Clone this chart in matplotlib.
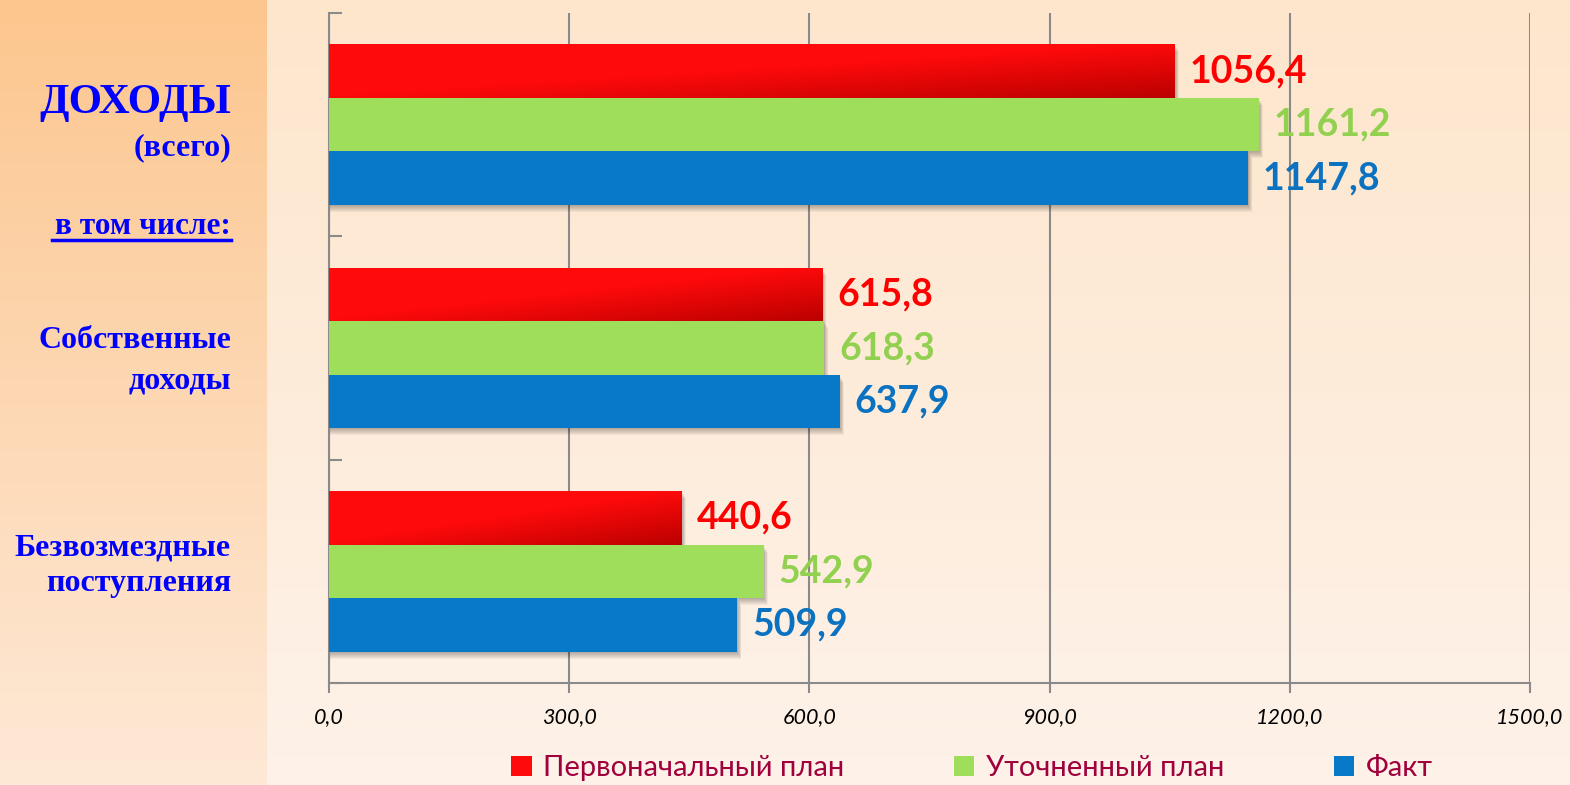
import numpy as np
import matplotlib.pyplot as plt
from matplotlib.lines import Line2D

categories = ['ДОХОДЫ (всего)', 'Собственные доходы', 'Безвозмездные поступления']
series_names = ['Первоначальный план', 'Уточненный план', 'Факт']
plan_initial = [1056.4, 615.8, 440.6]
plan_revised = [1161.2, 618.3, 542.9]
fact = [1147.8, 637.9, 509.9]
xticks = [0, 300, 600, 900, 1200, 1500]

colors = ['#ff0a0a', '#9ede5a', '#0878c8']
label_colors = ['#ff0000', '#92d050', '#0a72c0']

fig = plt.figure(figsize=(15.7, 7.85), dpi=100)

# background: peach gradient on the right, darker orange panel on the left
bg = fig.add_axes([0, 0, 1, 1], zorder=-10)
bg.axis('off')
t = np.linspace(0, 1, 256)[:, None]
top_r, bot_r = np.array([254, 230, 204]) / 255, np.array([253, 242, 233]) / 255
top_l, bot_l = np.array([252, 198, 142]) / 255, np.array([254, 233, 215]) / 255
right_img = (top_r * (1 - t) + bot_r * t)[:, None, :] * np.ones((1, 2, 1))
left_img = (top_l * (1 - t) + bot_l * t)[:, None, :] * np.ones((1, 2, 1))
bg.imshow(right_img, extent=[0, 1, 0, 1], aspect='auto', origin='upper')
bg.imshow(left_img, extent=[0, 267 / 1570, 0, 1], aspect='auto', origin='upper')
bg.set_xlim(0, 1)
bg.set_ylim(0, 1)

ax = fig.add_axes([329 / 1570, 1 - 683 / 785, 1201 / 1570, 670 / 785])
ax.set_facecolor('none')

y = np.arange(len(categories))
h = 0.24
offsets = [-h, 0, h]
series = [plan_initial, plan_revised, fact]

# soft shadow behind each group of bars
px_x = 1500 / 1201
px_y = 3 / 670
for k in range(1, 8):
    for vals, off in zip(series, offsets):
        ax.barh(y + off + k * px_y, np.array(vals) + k * px_x * 0.6, height=h,
                color='black', alpha=0.045, linewidth=0, zorder=1)

bars = []
for vals, off, c, name in zip(series, offsets, colors, series_names):
    b = ax.barh(y + off, vals, height=h, color=c, linewidth=0, zorder=3, label=name)
    bars.append(b)

# gradient on the red bars (darker toward bottom-right)
gx = np.linspace(0, 1, 200)[None, :]
gy = np.linspace(0, 1, 60)[:, None]
shade = np.clip(gx * 0.9 + gy * 0.9 - 0.85, 0, 1)
dark = np.array([0.72, 0.0, 0.0])
light = np.array([1.0, 0.04, 0.04])
grad = light * (1 - shade[..., None]) + dark * shade[..., None]
for rect in bars[0]:
    x0, y0 = rect.get_x(), rect.get_y()
    w, hh = rect.get_width(), rect.get_height()
    im = ax.imshow(grad, extent=[x0, x0 + w, y0 + hh, y0], aspect='auto',
                   origin='upper', zorder=4)
    im.set_clip_path(rect)

for vals, off, lc in zip(series, offsets, label_colors):
    for yi, v in zip(y, vals):
        ax.text(v + 15 * px_x, yi + off, f'{v:.1f}'.replace('.', ','),
                color=lc, fontsize=27, fontweight='bold', va='center', ha='left',
                family=['Lato', 'DejaVu Sans'], zorder=5)

ax.set_xlim(0, 1500)
ax.set_ylim(2.5, -0.5)
ax.set_xticks(xticks)
ax.set_xticklabels([f'{v:.1f}'.replace('.', ',') for v in xticks],
                   fontsize=15.5, fontstyle='italic', family=['Lato', 'DejaVu Sans'])
ax.tick_params(axis='x', direction='out', length=7, width=1.5, color='#8a8a8a', pad=10)
ax.set_yticks([-0.5, 0.5, 1.5, 2.5])
ax.set_yticklabels([])
ax.tick_params(axis='y', direction='in', length=9, width=1.5, color='#8a8a8a')
ax.grid(axis='x', color='#8a8a8a', linewidth=1.5, zorder=0)
ax.set_axisbelow(True)
for s in ['top', 'right']:
    ax.spines[s].set_visible(False)
for s in ['left', 'bottom']:
    ax.spines[s].set_color('#8a8a8a')
    ax.spines[s].set_linewidth(1.5)

# left panel headings
blue = '#0000ff'
serif = ['Liberation Serif', 'DejaVu Serif']
xr = 231 / 1570


def fy(py):
    return 1 - py / 785


fig.text(xr, fy(103), 'ДОХОДЫ', ha='right', va='center', color=blue,
         fontsize=31, fontweight='bold', family=serif)
fig.text(xr, fy(148), '(всего)', ha='right', va='center', color=blue,
         fontsize=23, fontweight='bold', family=serif)
fig.text(xr, fy(226), 'в том числе:', ha='right', va='center', color=blue,
         fontsize=22.5, fontweight='bold', family=serif)
fig.add_artist(Line2D([52 / 1570, xr], [fy(240), fy(240)], color=blue, linewidth=2.5))
fig.text(xr, fy(340), 'Собственные', ha='right', va='center', color=blue,
         fontsize=23, fontweight='bold', family=serif)
fig.text(xr, fy(381), 'доходы', ha='right', va='center', color=blue,
         fontsize=23, fontweight='bold', family=serif)
fig.text(xr, fy(548), 'Безвозмездные', ha='right', va='center', color=blue,
         fontsize=23, fontweight='bold', family=serif)
fig.text(xr, fy(583), 'поступления', ha='right', va='center', color=blue,
         fontsize=23, fontweight='bold', family=serif)

leg = fig.legend(handles=bars, labels=series_names, loc='center',
                 bbox_to_anchor=(972 / 1570, fy(768)), ncol=3, frameon=False,
                 handlelength=0.7, handleheight=0.7, handletextpad=0.4,
                 columnspacing=3.75, prop={'family': ['Lato', 'DejaVu Sans'], 'size': 21})
for txt in leg.get_texts():
    txt.set_color('#a0003c')

fig.savefig('out.png', dpi=100)
